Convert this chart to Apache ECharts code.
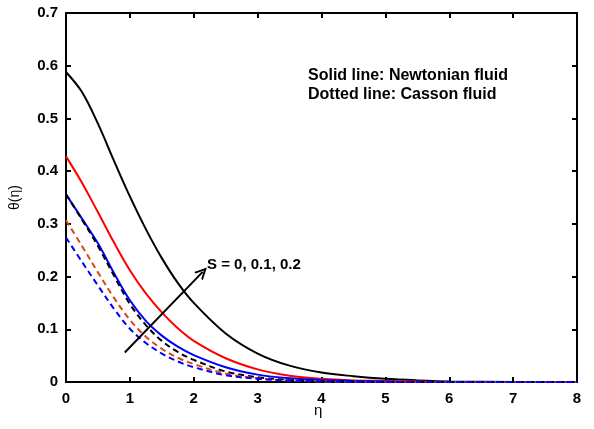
<!DOCTYPE html>
<html><head><meta charset="utf-8">
<script src="https://cdn.jsdelivr.net/npm/echarts@6/dist/echarts.min.js"></script>
<style>html,body{margin:0;padding:0;background:#fff}#c{width:594px;height:429px}</style>
</head><body><div id="c"></div>
<script>
const eta = [0, 0.25, 0.5, 0.75, 1, 1.25, 1.5, 1.75, 2, 2.5, 3, 3.5, 4, 4.5, 5, 5.5, 6, 7, 8];
const newtBlack = [0.588, 0.55, 0.49, 0.42, 0.352, 0.29, 0.235, 0.188, 0.15, 0.092, 0.054, 0.031, 0.018, 0.011, 0.006, 0.003, 0.001, 0, 0];
const newtRed   = [0.428, 0.378, 0.322, 0.265, 0.212, 0.168, 0.132, 0.102, 0.078, 0.045, 0.024, 0.012, 0.006, 0.003, 0.002, 0.001, 0, 0, 0];
const newtBlue  = [0.356, 0.31, 0.263, 0.207, 0.155, 0.116, 0.088, 0.067, 0.051, 0.028, 0.014, 0.007, 0.004, 0.002, 0.001, 0, 0, 0, 0];
const cassBlack = [0.356, 0.308, 0.258, 0.202, 0.148, 0.108, 0.078, 0.057, 0.042, 0.02, 0.009, 0.004, 0.002, 0.001, 0, 0, 0, 0, 0];
const cassRed   = [0.307, 0.258, 0.208, 0.16, 0.118, 0.086, 0.063, 0.046, 0.034, 0.016, 0.007, 0.003, 0.001, 0, 0, 0, 0, 0, 0];
const cassBlue  = [0.274, 0.228, 0.183, 0.139, 0.101, 0.074, 0.054, 0.039, 0.028, 0.013, 0.006, 0.003, 0.001, 0, 0, 0, 0, 0, 0];
const arrowStart = [0.92, 0.056];
const arrowEnd = [2.14, 0.209];
const sLabel = 'S = 0, 0.1, 0.2';
const note1 = 'Solid line: Newtonian fluid';
const note2 = 'Dotted line: Casson fluid';
const xName = 'η';

const pair = arr => eta.map((x, i) => [x, arr[i]]);
const font = 'Liberation Sans, Arial, sans-serif';
function mk(name, arr, color, dashed) {
  return { name, type: 'line', data: pair(arr), symbol: 'none', smooth: 0.35,
    lineStyle: { color, width: 2, type: dashed ? [6, 4] : 'solid' }, z: 3 };
}
const chart = echarts.init(document.getElementById('c'));
const ax = { onZero: false, lineStyle: { color: '#000', width: 2 } };
const tick = { inside: true, length: 5, lineStyle: { color: '#000', width: 2 } };
chart.setOption({
  animation: false,
  grid: { left: 64, right: 17, top: 13, bottom: 47 },
  xAxis: [
    { type: 'value', min: 0, max: 8, interval: 1, axisLine: ax, axisTick: tick,
      axisLabel: { color: '#000', fontWeight: 'bold', fontSize: 15, fontFamily: font, margin: 9 },
      splitLine: { show: false } },
    { type: 'value', position: 'top', min: 0, max: 8, interval: 1, axisLine: ax, axisTick: tick,
      axisLabel: { show: false }, splitLine: { show: false } }
  ],
  yAxis: [
    { type: 'value', min: 0, max: 0.7, interval: 0.1, axisLine: ax, axisTick: tick,
      axisLabel: { color: '#000', fontWeight: 'bold', fontSize: 15, fontFamily: font, margin: 8,
        formatter: v => v === 0 ? '0' : v.toFixed(1) },
      splitLine: { show: false }, name: 'θ(η)', nameLocation: 'middle', nameGap: 44,
      nameTextStyle: { color: '#000', fontSize: 14, fontFamily: font } },
    { type: 'value', position: 'right', min: 0, max: 0.7, interval: 0.1, axisLine: ax, axisTick: tick,
      axisLabel: { show: false }, splitLine: { show: false } }
  ],
  series: [
    mk('Newtonian S3', newtBlack, '#000000', false),
    mk('Newtonian S2', newtRed, '#ff0000', false),
    mk('Newtonian S1', newtBlue, '#0000ff', false),
    mk('Casson S3', cassBlack, '#000000', true),
    mk('Casson S2', cassRed, '#d9461a', true),
    mk('Casson S1', cassBlue, '#0000ff', true),
    { type: 'line', data: [], markLine: { silent: true,
        symbol: ['none', 'path://M5,0 L10,10 L8.2,10 L5,3.6 L1.8,10 L0,10 Z'], symbolSize: [12, 12],
        lineStyle: { color: '#000', width: 2, type: 'solid' }, label: { show: false },
        data: [[{ coord: arrowStart }, { coord: arrowEnd }]] } }
  ],
  graphic: [
    { type: 'text', left: 207, top: 257, style: { text: sLabel, fill: '#000', font: 'bold 15px ' + font } },
    { type: 'text', left: 308, top: 68, style: { text: note1, fill: '#000', font: 'bold 16px ' + font } },
    { type: 'text', left: 308, top: 87, style: { text: note2, fill: '#000', font: 'bold 16px ' + font } },
    { type: 'text', left: 314, top: 403, style: { text: xName, fill: '#000', font: '15px ' + font } }
  ]
});
</script></body></html>
